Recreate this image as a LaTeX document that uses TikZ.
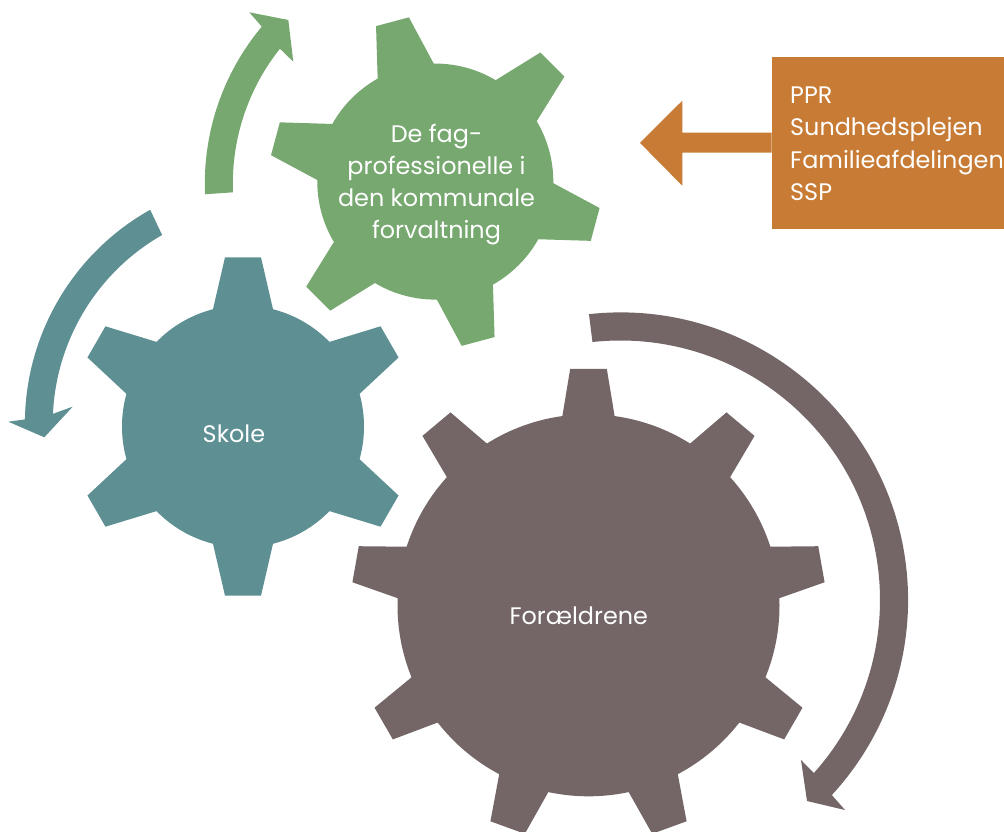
\documentclass[tikz,border=0pt]{standalone}
\usepackage{fontspec}
\setmainfont{Poppins}
\usetikzlibrary{calc}
\definecolor{cgreen}{HTML}{76A86F}
\definecolor{cteal}{HTML}{5D8F93}
\definecolor{cbrown}{HTML}{746666}
\definecolor{corange}{HTML}{C87B34}
\tikzset{
  gtext/.style={text=white, inner sep=0pt, font=\fontsize{23.9}{32}\selectfont},
}
% \gearshape{cx}{cy}{Rbody}{Rout}{wout}{rbase}{wbase}{angles}{colour}
\newcommand{\gearshape}[9]{%
  \fill[#9] (#1,#2) circle[radius=#3];
  \foreach \ang in {#8}{%
    \fill[#9, shift={(#1,#2)}, rotate=\ang] (#6,-#7) -- (#4,-#5) -- (#4,#5) -- (#6,#7) -- cycle;
  }%
}
\begin{document}
\begin{tikzpicture}[x=1pt,y=1pt]
\clip (0,0) rectangle (1004,-832);
\fill[white] (0,0) rectangle (1004,-832);

% gears
\gearshape{435.3}{-181.6}{118}{165.5}{17}{100}{32.4}{45,105,165,225,285,345}{cgreen}
\gearshape{243}{-426.5}{121}{169.2}{18}{100}{34}{30,90,150,210,270,330}{cteal}
\gearshape{588.5}{-605.3}{191}{236.5}{18.3}{170}{29.3}{10,50,90,130,170,210,250,290,330}{cbrown}

% circular arrows
\coordinate (tc) at (270.2,-423.7);
\fill[cteal] ($(tc)+(119.3:245.3)$) arc[start angle=119.3, end angle=179.0, radius=245.3]
  -- (8.3,-421.7) -- (44.3,-437.3) -- (72.7,-406.7)
  -- ($(tc)+(177.4:217.5)$) arc[start angle=177.4, end angle=119.8, radius=217.5] -- cycle;

\coordinate (gc) at (449.5,-183.6);
\fill[cgreen] ($(gc)+(182.5:244.7)$) arc[start angle=182.5, end angle=140.1, radius=244.7]
  -- (249.3,-12.3) -- (288.3,-20) -- (293.3,-61.7)
  -- ($(gc)+(141.5:216.7)$) arc[start angle=141.5, end angle=182.3, radius=216.7] -- cycle;

\coordinate (bc) at (620.5,-600);
\fill[cbrown] ($(bc)+(96.3:287.6)$) arc[start angle=96.3, end angle=-42.7, radius=287.6]
  -- (845,-810) -- (807,-801) -- (801,-760)
  -- ($(bc)+(-41.8:259.5)$) arc[start angle=-41.8, end angle=96.2, radius=259.5] -- cycle;

% orange box and arrow
\node[fill=corange, minimum width=260pt, minimum height=172.3pt, anchor=north west, inner sep=0pt] (box) at (771.7,-56.7) {};
\fill[corange] (771.7,-132.7) -- (682.3,-132.7) -- (682.3,-100.7) -- (640,-142.9)
  -- (682.3,-185.7) -- (682.3,-152.7) -- (771.7,-152.7) -- cycle;
\node[gtext, anchor=base west] (l1) at (790,-104) {PPR};
\node[gtext, anchor=base west] (l2) at (790,-136) {Sundhedsplejen};
\node[gtext, anchor=base west] (l3) at (790,-168.2) {Familieafdelingen};
\node[gtext, anchor=base west] (l4) at (790,-200) {SSP};

% gear labels
\node[gtext, anchor=base] (g1) at (436.5,-142.3) {De fag-};
\node[gtext, anchor=base] (g2) at (436.5,-174.2) {professionelle i};
\node[gtext, anchor=base] (g3) at (436.5,-206.1) {den kommunale};
\node[gtext, anchor=base] (g4) at (436.5,-238) {forvaltning};
\node[gtext, anchor=base] (sk) at (233.9,-442) {Skole};
\node[gtext, anchor=base] (fo) at (578.8,-624.3) {Forældrene};
\end{tikzpicture}
\end{document}
